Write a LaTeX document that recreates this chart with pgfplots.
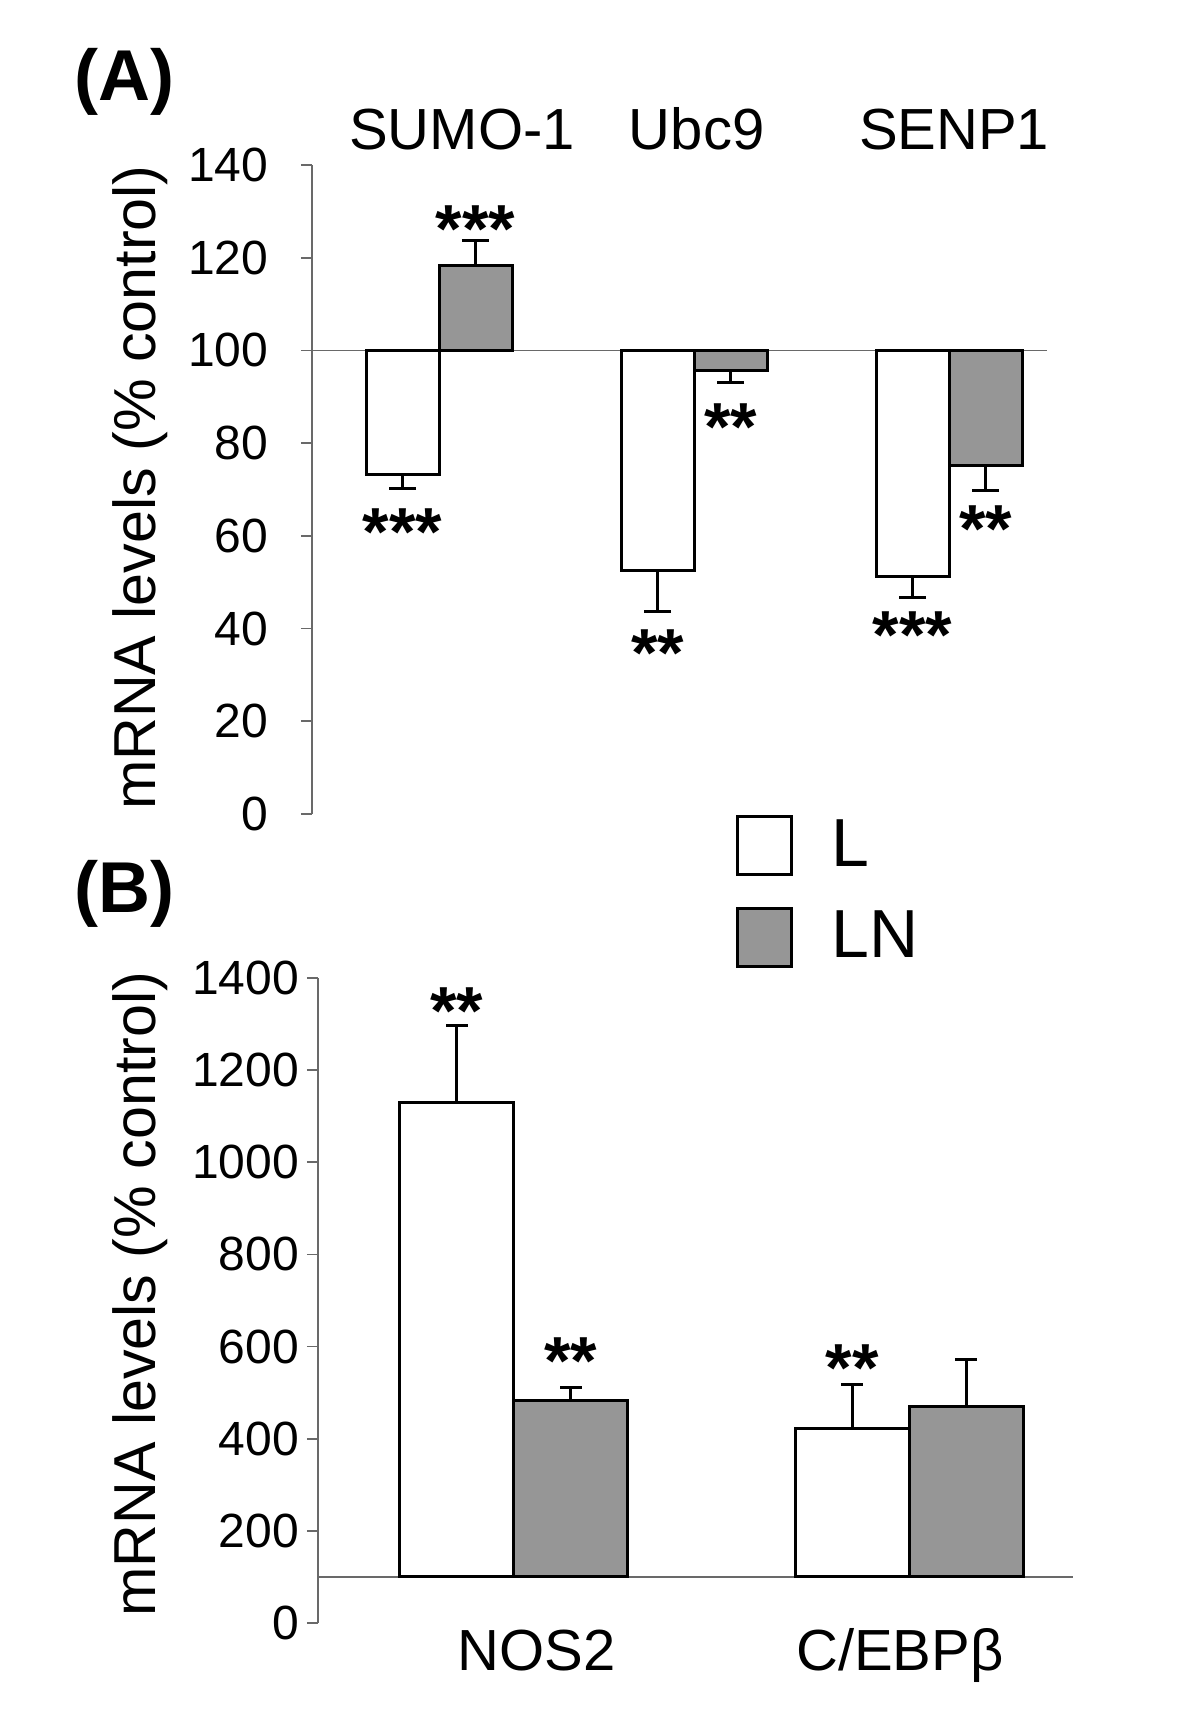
\documentclass[border=0pt]{standalone}
\usepackage{fontspec}
\setmainfont{Liberation Sans}
\usepackage{pgfplots}
\pgfplotsset{compat=1.18}

\definecolor{bargray}{RGB}{150,150,150}
\definecolor{axgray}{RGB}{105,105,105}

\tikzset{stars/.style={font=\bfseries\fontsize{17}{20}\selectfont, anchor=base, inner sep=0pt, yshift=-8.6pt}}

% 1 px of the reference = 0.25pt
\pgfplotsset{
  panel/.style={
    scale only axis,
    axis y line=left,
    x axis line style={draw=none},
    y axis line style={-, axgray, line width=0.45pt},
    xtick style={draw=none},
    ytick style={axgray, line width=0.45pt},
    tick align=outside,
    major tick length=2.75pt,
    /pgf/number format/assume math mode=true,
    yticklabel style={font=\fontsize{12}{14}\selectfont, anchor=east, inner sep=0pt, xshift=-8pt},
    xticklabel style={font=\fontsize{14.5}{17}\selectfont, inner sep=0pt},
    ylabel={mRNA levels (\% control)},
    ylabel style={font=\fontsize{14.8}{17}\selectfont, rotate=0, anchor=center, inner sep=0pt},
    ybar,
    clip=false,
    every axis plot post/.append style={
      legend image code/.code={\draw[##1, line width=0.75pt] (0pt,-7.25pt) rectangle (13.5pt,7.25pt);}},
  },
  Lbar/.style={draw=black, fill=white, line width=0.75pt,
    y filter/.expression={y-100},
    error bars/y explicit,
    error bars/error bar style={black, line width=0.75pt},
    error bars/error mark options={rotate=90, black, line width=0.75pt, mark size=#1}},
  Lbar/.default=3.4pt,
  LNbar/.style={Lbar=#1, fill=bargray},
  LNbar/.default=3.4pt,
}

\begin{document}
\begin{tikzpicture}
\path[use as bounding box] (0pt,0pt) rectangle (300pt,-432pt);

\node[anchor=base west, inner sep=0pt, font=\bfseries\fontsize{18}{20}\selectfont] at (18.5pt,-25pt) {(A)};
\node[anchor=base west, inner sep=0pt, font=\bfseries\fontsize{18}{20}\selectfont] at (18.5pt,-228pt) {(B)};

% ---------- panel A ----------
\begin{axis}[panel,
  at={(78pt,-203.5pt)}, anchor=south west,
  width=183.75pt, height=162.25pt,
  axis x line=top,
  xmin=-0.498, xmax=2.384,
  ymin=-100, ymax=40,
  ytick={-100,-80,...,40},
  yticklabels={0,20,40,60,80,100,120,140},
  xtick={0.09,1.01,2.02},
  xticklabels={SUMO-1,Ubc9,SENP1},
  xticklabel style={anchor=base, yshift=2.5pt},
  ylabel style={at={(rel axis cs:-0.234,0.503)}},
  bar width=18.25pt,
  legend style={at={(rel axis cs:0.577,-0.002)}, anchor=north west,
    draw=none, fill=none, inner sep=0pt, outer sep=0pt,
    row sep=7.6pt, column sep=9.7pt,
    font=\fontsize{17}{20}\selectfont,
    nodes={inner sep=0pt}},
  legend cell align=left,
]
\draw[axgray, line width=0.45pt] (axis cs:-0.498,0) -- (axis cs:2.384,0);

% L: bars below 100, errors downwards
\addplot[Lbar, bar shift=-9.125pt, error bars/y dir=minus] coordinates {
  (0,73.3) +- (0,3.0)
  (1,52.6) +- (0,9.0)
  (2,51.3) +- (0,4.5)
};
\addlegendentry{L}
% LN: SUMO-1 above 100
\addplot[LNbar, bar shift=9.125pt, error bars/y dir=plus] coordinates {
  (0,118.4) +- (0,5.4)
};
\addlegendentry{LN}
% LN: Ubc9 and SENP1 below 100
\addplot[LNbar, forget plot, bar shift=9.125pt, error bars/y dir=minus] coordinates {
  (1,95.6) +- (0,2.6)
  (2,75.1) +- (0,5.4)
};

\node[stars, xshift=-9.125pt] at (axis cs:0,-36.8) {***};
\node[stars, xshift=9.125pt]  at (axis cs:0,28.6)  {***};
\node[stars, xshift=-9.125pt] at (axis cs:1,-62.9) {**};
\node[stars, xshift=9.125pt]  at (axis cs:1,-14.1) {**};
\node[stars, xshift=-9.125pt] at (axis cs:2,-59.0) {***};
\node[stars, xshift=9.125pt]  at (axis cs:2,-36.2) {**};
\end{axis}

% ---------- panel B ----------
\begin{axis}[panel,
  at={(79.5pt,-405.75pt)}, anchor=south west,
  width=188.75pt, height=161.25pt,
  axis x line=bottom,
  xmin=-0.496, xmax=1.415,
  ymin=-100, ymax=1300,
  ytick={-100,100,...,1300},
  yticklabels={0,200,400,600,800,1000,1200,1400},
  yticklabel style={xshift=6.2pt},
  xtick={0.058,0.977},
  xticklabels={NOS2,C/EBPβ},
  xticklabel style={anchor=base, yshift=-10.5pt},
  ylabel style={at={(rel axis cs:-0.236,0.51)}},
  bar width=28.5pt,
]
\draw[axgray, line width=0.45pt] (axis cs:-0.496,0) -- (axis cs:1.415,0);

\addplot[Lbar=2.7pt, bar shift=-14.25pt, error bars/y dir=plus] coordinates {
  (0,1129) +- (0,167)
  (1,423)  +- (0,94)
};
\addplot[LNbar=2.7pt, bar shift=14.25pt, error bars/y dir=plus] coordinates {
  (0,484) +- (0,27)
  (1,469) +- (0,104)
};

\node[stars, xshift=-14.25pt] at (axis cs:0,1252) {**};
\node[stars, xshift=14.25pt]  at (axis cs:0,493)  {**};
\node[stars, xshift=-14.25pt] at (axis cs:1,477)  {**};
\end{axis}
\end{tikzpicture}
\end{document}
